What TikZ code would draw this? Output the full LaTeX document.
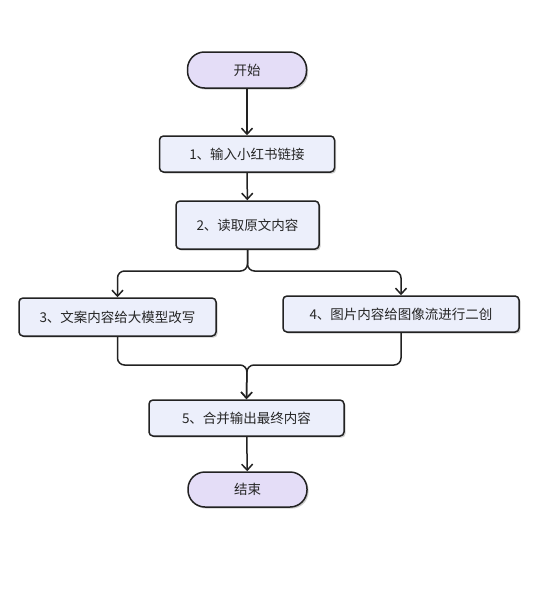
\documentclass[tikz,border=0pt]{standalone}
\usepackage{fontspec}
\newfontfamily\cjk{Noto Sans CJK SC}
\usetikzlibrary{shadows,arrows.meta}
\definecolor{boxfill}{HTML}{ECEFFB}
\definecolor{termfill}{HTML}{E4DDF7}
\definecolor{edge}{HTML}{222222}
\tikzset{
  base/.style={draw=edge, line width=1.5pt, font=\cjk\fontsize{13.5}{16}\selectfont, text=black!85, inner sep=0pt,
    drop shadow={shadow xshift=1.6pt, shadow yshift=-1.6pt, fill=gray!50, opacity=0.8}},
  procbox/.style={base, rectangle, rounded corners=4pt, fill=boxfill},
  termbox/.style={base, rectangle, rounded corners=17pt, fill=termfill},
  conn/.style={draw=edge, line width=1.5pt, -{Straight Barb[length=6pt,width=11pt,line width=1.5pt]}}
}
\begin{document}
\begin{tikzpicture}[x=1pt,y=-1pt]
\useasboundingbox (0,0) rectangle (538,589);
\node[termbox, minimum width=119pt, minimum height=36pt] (start) at (247,70) {开始};
\node[procbox, minimum width=175pt, minimum height=36pt] (b1) at (247,154) {1、输入小红书链接};
\node[procbox, minimum width=143pt, minimum height=48pt] (b2) at (247.5,225) {2、读取原文内容};
\node[procbox, minimum width=197pt, minimum height=38pt] (b3) at (117.5,317) {3、文案内容给大模型改写};
\node[procbox, minimum width=236pt, minimum height=36pt] (b4) at (401,314) {4、图片内容给图像流进行二创};
\node[procbox, minimum width=195pt, minimum height=36pt] (b5) at (246.5,418) {5、合并输出最终内容};
\node[termbox, minimum width=119pt, minimum height=35pt] (end) at (247.5,489.5) {结束};
\coordinate (s3) at (117.5,271);
\coordinate (s4) at (401,271);
\coordinate (m) at (247,365);
\draw[conn] (start) -- (b1);
\draw[conn] (b1) -- (b2);
\draw[conn, rounded corners=7pt] (b2.south) |- (s3) -- (b3.north);
\draw[conn, rounded corners=7pt] (b2.south) |- (s4) -- (b4.north);
\draw[conn, rounded corners=7pt] (b3.south) |- (m) -- (b5.north);
\draw[conn, rounded corners=7pt] (b4.south) |- (m) -- (b5.north);
\draw[conn] (b5) -- (end);
\end{tikzpicture}
\end{document}
